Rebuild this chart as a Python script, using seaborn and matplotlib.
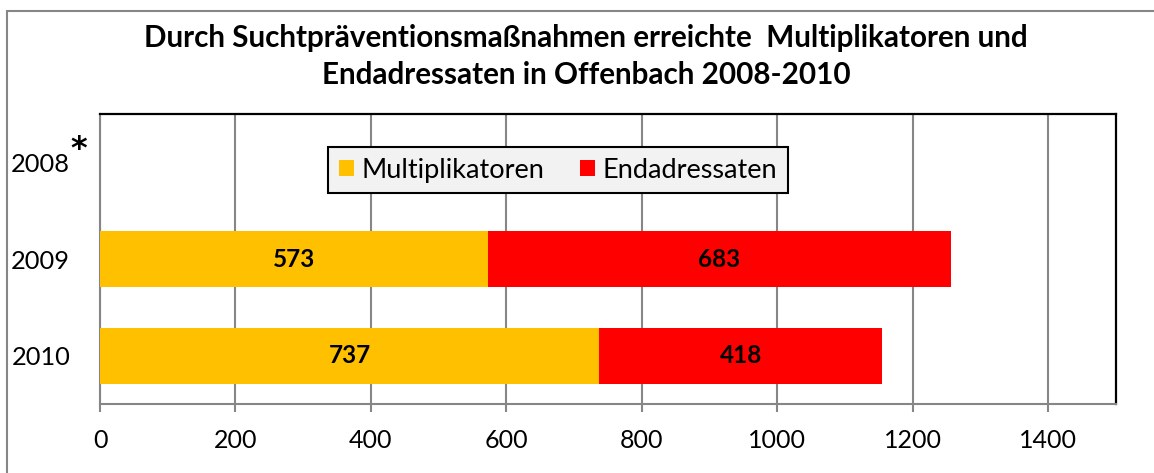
import matplotlib
matplotlib.use("Agg")
import matplotlib.pyplot as plt
import seaborn as sns
import pandas as pd
import numpy as np
from matplotlib.patches import Rectangle

# Reached target groups per year (2008: no data available)
years = ["2008", "2009", "2010"]
multiplikatoren = [np.nan, 573, 737]
endadressaten = [np.nan, 683, 418]
xticks = [0, 200, 400, 600, 800, 1000, 1200, 1400]

title_line1 = "Durch Suchtpräventionsmaßnahmen erreichte  Multiplikatoren und"
title_line2 = "Endadressaten in Offenbach 2008-2010"

sns.set_theme(style="white")
plt.rcParams["font.family"] = ["Lato", "DejaVu Sans"]
plt.rcParams["text.color"] = "black"
plt.rcParams["xtick.labelcolor"] = "black"
plt.rcParams["ytick.labelcolor"] = "black"

W, H = 1154, 473
fig = plt.figure(figsize=(W / 100, H / 100), dpi=100)
ax = fig.add_axes([100 / W, 1 - 404 / H, 1016 / W, 290 / H])

df = pd.DataFrame({"Jahr": years,
                   "Multiplikatoren": multiplikatoren,
                   "Endadressaten": endadressaten})
df["Gesamt"] = df["Multiplikatoren"] + df["Endadressaten"]

yellow = "#FFC000"
red = "#FF0000"
grey = "#868686"

# stacked bars: total in red, first segment in yellow drawn on top
sns.barplot(data=df, y="Jahr", x="Gesamt", order=years, orient="h",
            color=red, saturation=1, width=0.58, linewidth=0,
            label="Endadressaten", ax=ax, zorder=3)
sns.barplot(data=df, y="Jahr", x="Multiplikatoren", order=years, orient="h",
            color=yellow, saturation=1, width=0.58, linewidth=0,
            label="Multiplikatoren", ax=ax, zorder=3)

# value labels centred in each segment
for i, (m, e) in enumerate(zip(multiplikatoren, endadressaten)):
    if not np.isnan(m):
        ax.text(m / 2, i, f"{int(m)}", ha="center", va="center",
                fontsize=17.5, fontweight="bold", color="black", zorder=5)
    if not np.isnan(e):
        ax.text(m + e / 2, i, f"{int(e)}", ha="center", va="center",
                fontsize=17.5, fontweight="bold", color="black", zorder=5)

ax.set_xlim(0, 1500)
ax.set_ylim(2.5, -0.5)
ax.set_xticks(xticks)
ax.set_xticklabels([str(t) for t in xticks])
ax.set_xlabel("")
ax.set_ylabel("")

ax.set_axisbelow(True)
ax.grid(axis="x", color=grey, linewidth=1.5)
ax.grid(axis="y", visible=False)

for side in ("left", "bottom"):
    ax.spines[side].set_color(grey)
    ax.spines[side].set_linewidth(1.5)
for side in ("top", "right"):
    ax.spines[side].set_color("black")
    ax.spines[side].set_linewidth(1.6)

ax.tick_params(axis="x", direction="out", length=6, width=1.5, color=grey,
               labelsize=18, pad=12, bottom=True, labelcolor="black")
ax.tick_params(axis="y", length=0, labelsize=18.3, pad=21.5, left=False,
               labelcolor="black")

# superscript note marker next to the 2008 label
fig.text(79 / W, 1 - 149 / H, "*", fontsize=23, fontweight="bold",
         family="DejaVu Sans", ha="center", va="center", color="black")

# legend
handles, labels = ax.get_legend_handles_labels()
order = [labels.index("Multiplikatoren"), labels.index("Endadressaten")]
leg = ax.legend([handles[k] for k in order], [labels[k] for k in order],
                loc="center", bbox_to_anchor=((558 - 100) / 1016, (404 - 170) / 290),
                ncol=2, fontsize=19.5, frameon=True, fancybox=False,
                framealpha=1, facecolor="#F2F2F2", edgecolor="black",
                handlelength=0.55, handleheight=0.55, handletextpad=0.3,
                columnspacing=1.3, borderpad=0.4, borderaxespad=0)
leg.get_frame().set_linewidth(1.5)
for t in leg.get_texts():
    t.set_color("black")

# chart title
fig.text(586 / W, 1 - 38 / H, title_line1, ha="center", va="center",
         fontsize=21.3, fontweight="bold", color="black")
fig.text(586 / W, 1 - 75 / H, title_line2, ha="center", va="center",
         fontsize=21.3, fontweight="bold", color="black")

# outer chart frame
fig.patches.append(Rectangle((7 / W, -0.1), 1.2, 1 - 11 / H + 0.1,
                             transform=fig.transFigure, fill=False,
                             edgecolor=grey, linewidth=1.5))

fig.savefig("out.png", dpi=100)
